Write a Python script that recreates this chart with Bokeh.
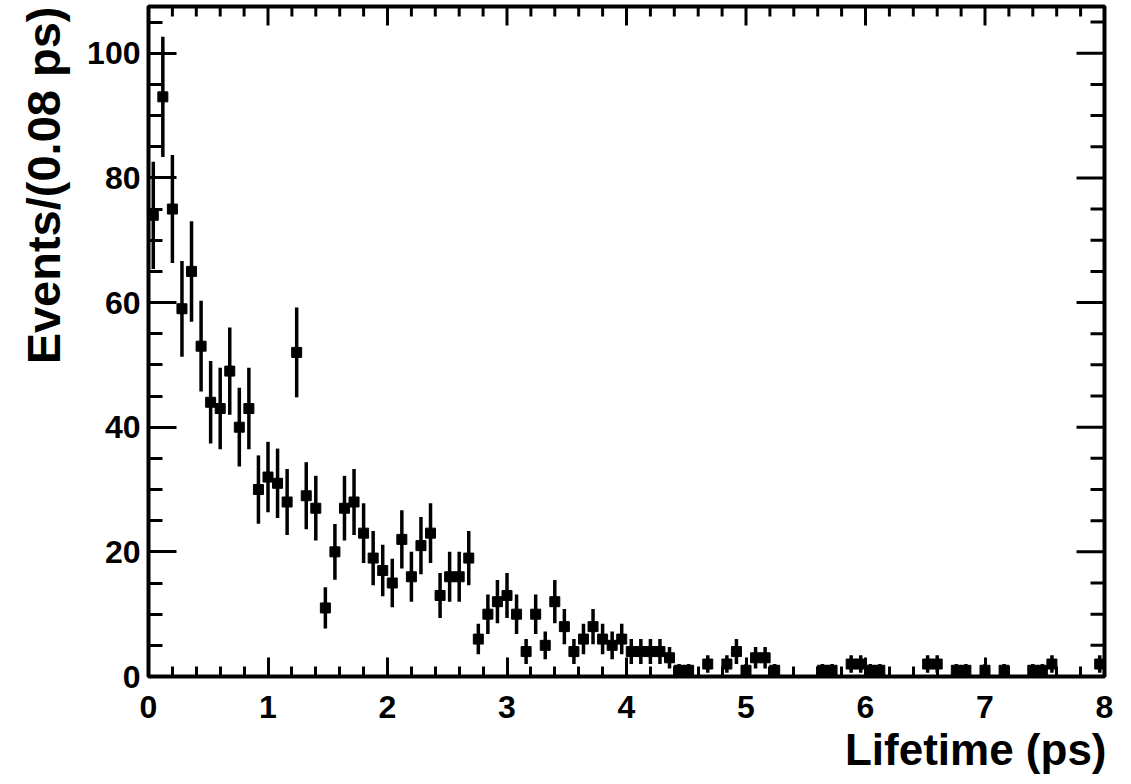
import math
from bokeh.plotting import figure
from bokeh.models import Range1d, LinearAxis, SingleIntervalTicker, ColumnDataSource, Title
from bokeh.embed import file_html
from bokeh.resources import INLINE

# ---- data -------------------------------------------------------------
x_min, x_max = 0.0, 8.0
bin_width = 0.08
counts = [
    74, 93, 75, 59, 65, 53, 44, 43, 49, 40,
    43, 30, 32, 31, 28, 52, 29, 27, 11, 20,
    27, 28, 23, 19, 17, 15, 22, 16, 21, 23,
    13, 16, 16, 19, 6, 10, 12, 13, 10, 4,
    10, 5, 12, 8, 4, 6, 8, 6, 5, 6,
    4, 4, 4, 4, 3, 1, 1, 0, 2, 0,
    2, 4, 1, 3, 3, 1, 0, 0, 0, 0,
    1, 1, 0, 2, 2, 1, 1, 0, 0, 0,
    0, 2, 2, 0, 1, 1, 0, 1, 0, 1,
    0, 0, 1, 1, 2, 0, 0, 0, 0, 2,
]
x_label = "Lifetime (ps)"
y_label = "Events/(0.08 ps)"
y_max = 107.5
x_major_step, x_minor_div = 1.0, 5
y_major_step, y_minor_div = 20.0, 4

# bin centres of the histogram, and sqrt(N) error bars
xs, ys, lo, hi = [], [], [], []
for i, n in enumerate(counts):
    if n <= 0:
        continue
    c = x_min + bin_width * (i + 0.5)
    e = math.sqrt(n)
    xs.append(c)
    ys.append(n)
    lo.append(n - e)
    hi.append(n + e)
src = ColumnDataSource(dict(x=xs, y=ys, lo=lo, hi=hi))

FONT = "Liberation Sans"
W, H = 1131, 784
BL, BR, BT, BB = 147, 27, 6, 108
frame_w = W - BL - BR
frame_h = H - BT - BB
px_x = (x_max - x_min) / frame_w
px_y = y_max / frame_h

p = figure(width=W, height=H,
           x_range=Range1d(x_min, x_max), y_range=Range1d(0, y_max),
           x_axis_type=None, y_axis_type=None,
           output_backend="svg", toolbar_location=None,
           min_border_left=BL, min_border_right=BR,
           min_border_top=BT, min_border_bottom=BB)
p.background_fill_color = "white"
p.border_fill_color = "white"
p.outline_line_color = "black"
p.outline_line_width = 4
p.outline_line_alpha = 1.0


def style_axis(ax, major_len, minor_len):
    ax.axis_line_color = None
    ax.major_tick_in = major_len
    ax.major_tick_out = 0
    ax.minor_tick_in = minor_len
    ax.minor_tick_out = 0
    ax.major_tick_line_width = 3
    ax.minor_tick_line_width = 3
    ax.major_tick_line_color = "black"
    ax.minor_tick_line_color = "black"
    ax.major_label_text_font = FONT
    ax.major_label_text_font_style = "bold"
    ax.major_label_text_font_size = "32px"
    ax.major_label_text_color = "black"


xb = LinearAxis(ticker=SingleIntervalTicker(interval=x_major_step, num_minor_ticks=x_minor_div))
style_axis(xb, 19, 10)
xb.major_label_standoff = 19
p.add_layout(xb, "below")

yl = LinearAxis(ticker=SingleIntervalTicker(interval=y_major_step, num_minor_ticks=y_minor_div))
style_axis(yl, 28, 14)
yl.major_label_standoff = 8
p.add_layout(yl, "left")

# ---- axis titles, right/top aligned as in ROOT ------------------------
p.add_layout(Title(text=x_label, align="right", standoff=5, offset=-2,
                   text_font=FONT, text_font_style="bold",
                   text_font_size="44px", text_color="black"), "below")
p.add_layout(Title(text=y_label, align="right", standoff=29,
                   text_font=FONT, text_font_style="bold",
                   text_font_size="47px", text_color="black"), "left")

# ---- mirrored ticks on the top and right frame edges ------------------
n_x = int(round((x_max - x_min) / x_major_step * x_minor_div))
top_x, top_len = [], []
for k in range(n_x + 1):
    top_x.append(x_min + k * x_major_step / x_minor_div)
    top_len.append((19 if k % x_minor_div == 0 else 10) * px_y)
p.segment(x0=top_x, y0=[y_max] * len(top_x), x1=top_x,
          y1=[y_max - L for L in top_len],
          line_color="black", line_width=3)

n_y = int(math.floor(y_max / (y_major_step / y_minor_div)))
right_y, right_len = [], []
for k in range(n_y + 1):
    right_y.append(k * y_major_step / y_minor_div)
    right_len.append((28 if k % y_minor_div == 0 else 14) * px_x)
p.segment(x0=[x_max] * len(right_y), y0=right_y,
          x1=[x_max - L for L in right_len], y1=right_y,
          line_color="black", line_width=3)

# ---- data points -------------------------------------------------------
p.segment(x0="x", y0="lo", x1="x", y1="hi", source=src,
          line_color="black", line_width=3.5)
p.scatter(x="x", y="y", source=src, marker="square", size=10,
          fill_color="black", line_color="black")

open("out.html", "w").write(file_html(p, INLINE))
